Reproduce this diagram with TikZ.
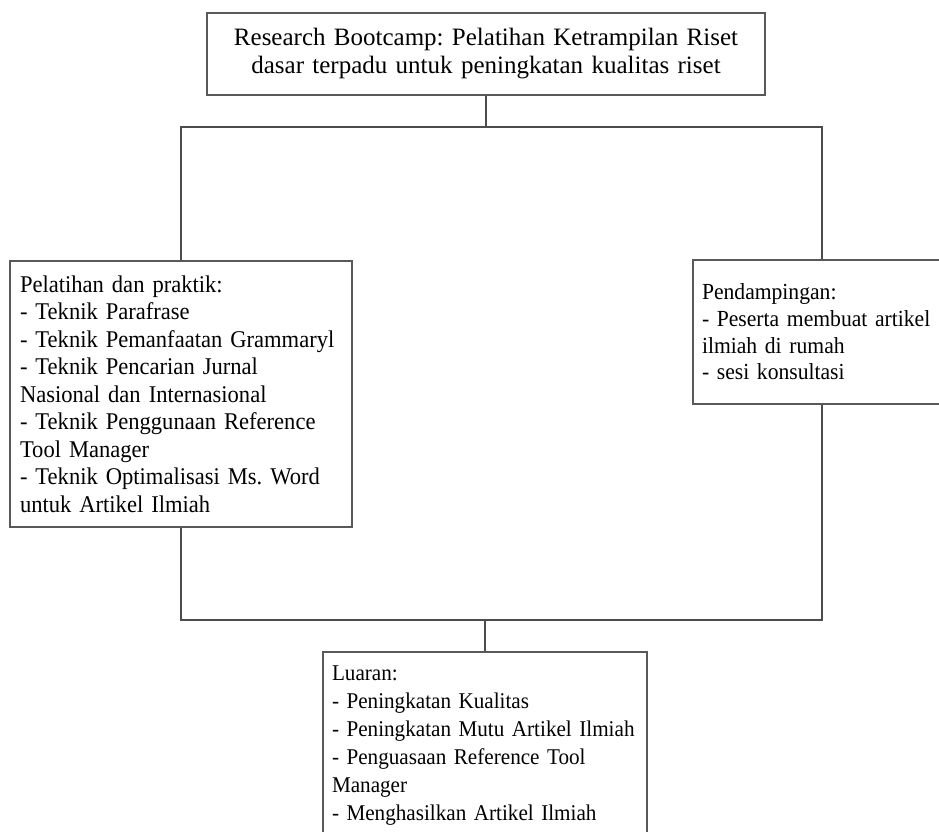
\documentclass[tikz,border=0pt]{standalone}
\usepackage{fontspec}
\setmainfont{Liberation Serif}
\newfontfamily\condfont[FakeStretch=0.94]{Liberation Serif}
\frenchspacing
\begin{document}
\frenchspacing
\begin{tikzpicture}[x=1pt,y=-1pt,
  box/.style={draw=black!65, line width=1.4pt, fill=white, inner ysep=0pt, align=left, anchor=center},
  link/.style={draw=black!70, line width=1.4pt}]
\useasboundingbox (0,0) rectangle (939,831);
\node[box, align=center, inner xsep=10pt, text width=538pt, minimum height=82pt,
      font=\fontsize{25}{28}\selectfont] (top) at (486,54)
  {Research Bootcamp: Pelatihan Ketrampilan Riset\\dasar terpadu untuk peningkatan kualitas riset};
\node[box, font=\condfont\fontsize{24}{27.5}\selectfont, inner xsep=10pt, text width=322pt, minimum height=266pt] (left) at (181,394)
  {Pelatihan dan praktik:\\
   - Teknik Parafrase\\
   \mbox{- Teknik Pemanfaatan Grammaryl}\\
   - Teknik Pencarian Jurnal\\
   Nasional dan Internasional\\
   - Teknik Penggunaan Reference\\
   Tool Manager\\
   \mbox{- Teknik Optimalisasi Ms. Word}\\
   untuk Artikel Ilmiah};
\node[box, font=\condfont\fontsize{23}{26.7}\selectfont, inner xsep=9pt, text width=240pt, minimum height=144pt] (right) at (822,332)
  {Pendampingan:\\
   \mbox{- Peserta membuat artikel}\\
   ilmiah di rumah\\
   - sesi konsultasi};
\node[box, font=\condfont\fontsize{22.5}{28}\selectfont, inner xsep=9pt, text width=306pt, minimum height=187pt] (bot) at (485,745.5)
  {Luaran:\\
   - Peningkatan Kualitas\\
   \mbox{- Peningkatan Mutu Artikel Ilmiah}\\
   - Penguasaan Reference Tool\\
   Manager\\
   - Menghasilkan Artikel Ilmiah};
\coordinate (jt) at (486,127);
\coordinate (jb) at (485,620);
\draw[link] (left.north) |- (jt) -| (right.north);
\draw[link] (top.south) -- (jt);
\draw[link] (left.south) |- (jb) -| (right.south);
\draw[link] (jb) -- (bot.north);
\end{tikzpicture}
\end{document}
